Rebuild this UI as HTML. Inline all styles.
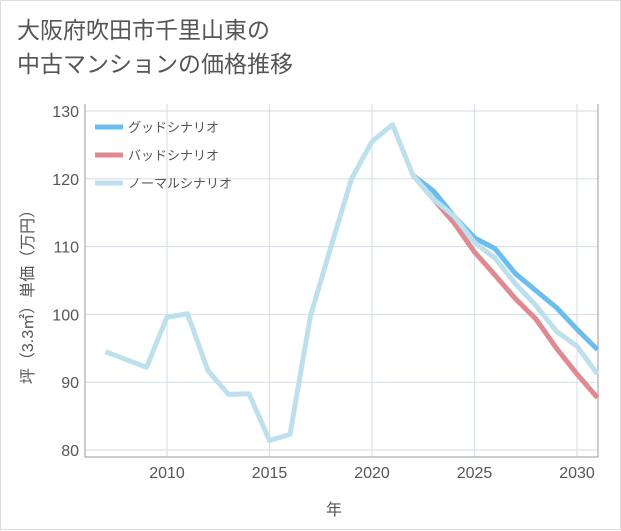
<!DOCTYPE html>
<html><head><meta charset="utf-8"><style>
body{margin:0;background:#fff;}
.card{position:relative;width:619px;height:528px;border:1px solid #ddd;background:#fff;font-family:"Liberation Sans","Noto Sans CJK JP",sans-serif;}
.title{position:absolute;left:16px;top:12px;font-size:23px;line-height:34px;color:#555;}
svg{position:absolute;left:0;top:0}
</style></head><body>
<div class="card">
<div class="title">大阪府吹田市千里山東の<br>中古マンションの価格推移</div>
<svg id="c" width="621" height="530"></svg>
</div>
<script>
const years=[2007,2009,2010,2011,2012,2013,2014,2015,2016,2017,2018,2019,2020,2021,2022,2023,2024,2025,2026,2027,2028,2029,2030,2031];
const normal=[94.5,92.2,99.6,100.1,91.7,88.2,88.3,81.4,82.3,99.8,110,120,125.5,128,120.5,117,114.5,110.6,108.3,104.5,101.3,97.5,95.3,91.2];
const fYears=[2022,2023,2024,2025,2026,2027,2028,2029,2030,2031];
const good=[120.5,118.2,114.5,111.3,109.7,106,103.5,101,97.8,94.8];
const bad=[120.5,117,113.5,109.2,105.8,102.3,99.3,95,91.2,87.7];
const yTicks=[80,90,100,110,120,130];
const xTicks=[2010,2015,2020,2025,2030];
const L=84,R=597,T=103,B=456;
const x=v=>166+(v-2010)*20.5;
const y=v=>449-(v-80)*6.78;
const s=document.getElementById('c');const NS='http://www.w3.org/2000/svg';
function mk(t,a,p){const e=document.createElementNS(NS,t);for(const k in a)e.setAttribute(k,a[k]);(p||s).appendChild(e);return e;}
yTicks.forEach(v=>{const g=mk('line',{x1:L,x2:R,y1:y(v),y2:y(v),stroke:'#d5dde5','stroke-width':1});


const t=mk('text',{x:78,y:y(v)+6,'text-anchor':'end','font-size':16,fill:'#555'});t.textContent=v;

});
xTicks.forEach(v=>{const g=mk('line',{x1:x(v),x2:x(v),y1:T,y2:B,stroke:'#d5dde5','stroke-width':1});


const t=mk('text',{x:x(v),y:477,'text-anchor':'middle','font-size':16,fill:'#555'});t.textContent=v;

});
const ax=mk('path',{d:`M${L} ${T}V${B}H${R}V${T}`,fill:'none',stroke:'#999','stroke-width':1});


function line(xs,vs,c,n){const p=mk('polyline',{points:xs.map((v,i)=>x(v)+','+y(vs[i])).join(' '),fill:'none',stroke:c,'stroke-width':5,'stroke-linejoin':'round'});

}
line(fYears,good,'#6bbdf0','good-scenario-line');
line(fYears,bad,'#de8a90','bad-scenario-line');
line(years,normal,'#bee0ec','normal-scenario-line');
const leg=[['グッドシナリオ','#6bbdf0'],['バッドシナリオ','#de8a90'],['ノーマルシナリオ','#bee0ec']];
leg.forEach((l,i)=>{const yy=126+i*28;const r=mk('line',{x1:94,x2:122,y1:yy,y2:yy,stroke:l[1],'stroke-width':5});


const t=mk('text',{x:127,y:yy+5,'font-size':13,fill:'#555'});t.textContent=l[0];

});
const xt=mk('text',{x:333,y:514,'text-anchor':'middle','font-size':16,fill:'#555'});xt.textContent='年';


const yt=mk('text',{x:0,y:0,'text-anchor':'middle','font-size':16,fill:'#555',transform:'translate(32,292) rotate(-90)'});yt.textContent='坪（3.3㎡）単価（万円）';


</script>
</body></html>
